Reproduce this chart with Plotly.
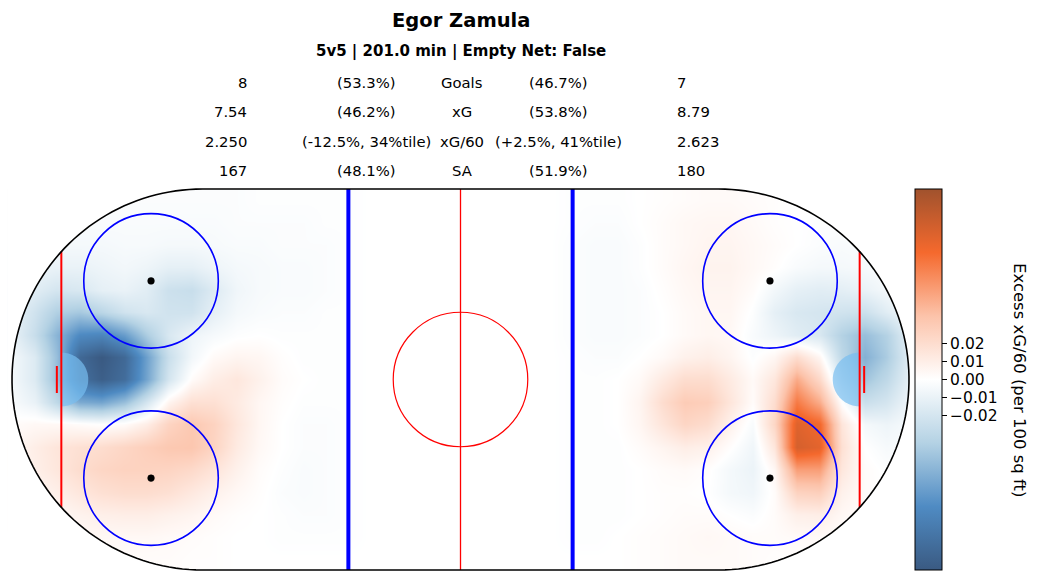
import numpy as np
import plotly.graph_objects as go

# ---------------- data ----------------
player = "Egor Zamula"
subtitle = "5v5 | 201.0 min | Empty Net: False"
stat_labels = ["Goals", "xG", "xG/60", "SA"]
left_values = ["8", "7.54", "2.250", "167"]
left_pcts = ["(53.3%)", "(46.2%)", "(-12.5%, 34%tile)", "(48.1%)"]
right_pcts = ["(46.7%)", "(53.8%)", "(+2.5%, 41%tile)", "(51.9%)"]
right_values = ["7", "8.79", "2.623", "180"]

# grid (ft); rows listed from y=40 (top) to y=-40 (bottom); values in 1/1000 xG/60
grid_y = [40, 35, 30, 25, 20, 15, 10, 5, 0, -5, -10, -15, -20, -25, -30, -35, -40]
left_x = [-100, -95, -90, -85, -80, -75, -70, -65, -60, -55, -50, -45, -40, -35, -30, -25]
neutral_x = [-20, -15, -10, -5, 0, 5, 10, 15, 20]
right_x = [25, 30, 35, 40, 45, 50, 55, 60, 65, 70, 75, 80, 85, 90, 95, 100]

left_zone = [
    [-2, -2, -2, -2, -2, -2, -2, -2, -2, -2, -2, -1, -1, -1, -1, -1],
    [-3, -3, -3, -3, -3, -3, -3, -3, -3, -3, -2, -2, -2, -2, -1, -1],
    [-4, -5, -5, -5, -5, -4, -4, -5, -5, -4, -3, -3, -2, -2, -2, -1],
    [-6, -8, -10, -10, -8, -6, -8, -12, -12, -8, -5, -4, -3, -3, -2, -1],
    [-8, -14, -20, -18, -12, -10, -14, -24, -26, -16, -7, -4, -3, -3, -2, -1],
    [-10, -22, -36, -40, -32, -22, -18, -22, -22, -12, -5, -3, -2, -2, -1, -1],
    [-10, -26, -50, -72, -75, -62, -38, -18, -8, -4, -1, 0, -1, -1, -1, -1],
    [-5, -16, -45, -95, -106, -95, -60, -25, -6, 3, 6, 5, 1, -1, -1, -1],
    [-5, -16, -45, -90, -102, -92, -58, -20, 2, 10, 14, 8, 2, 0, -1, -1],
    [-3, -10, -30, -55, -58, -45, -20, 6, 18, 18, 12, 5, 1, -1, -1, -1],
    [2, 4, 4, 2, 0, 2, 10, 25, 32, 26, 14, 5, 0, -2, -2, -1],
    [4, 10, 15, 18, 20, 24, 28, 32, 33, 25, 12, 4, 0, -2, -2, -1],
    [4, 9, 14, 20, 24, 26, 26, 25, 22, 16, 8, 2, -1, -3, -2, -1],
    [2, 5, 9, 14, 18, 20, 20, 18, 13, 8, 4, 1, -2, -3, -2, -1],
    [1, 2, 4, 7, 9, 10, 10, 8, 6, 3, 1, 0, -1, -2, -2, -1],
    [0, 1, 2, 3, 4, 4, 4, 3, 2, 1, 0, 0, -1, -1, -1, -1],
    [0, 0, 1, 1, 2, 2, 2, 2, 1, 1, 0, 0, 0, 0, 0, 0],
]

neutral_zone = [[0] * 9 for _ in range(17)]

right_zone = [
    [-1, -1, -1, 0, 1, 2, 3, 3, 2, 1, 0, 0, 0, 0, 0, 0],
    [-1, -2, -2, 0, 2, 4, 5, 5, 3, 1, 0, -1, -1, -1, 0, 0],
    [-2, -3, -3, -1, 2, 4, 6, 6, 4, 2, 0, -2, -3, -2, -1, 0],
    [-2, -3, -3, -1, 2, 5, 7, 7, 4, 1, -3, -5, -5, -4, -2, -1],
    [-2, -3, -3, -2, 1, 4, 6, 6, 2, -6, -12, -14, -13, -10, -5, -2],
    [-2, -3, -3, -2, 0, 3, 5, 5, -1, -12, -18, -20, -22, -24, -14, -6],
    [-2, -3, -3, -2, 0, 3, 5, 4, -3, -8, -14, -18, -35, -45, -35, -12],
    [-1, -2, -2, 0, 3, 8, 10, 6, -1, 5, 20, 5, -30, -52, -38, -14],
    [-1, -1, 0, 3, 12, 20, 20, 12, 3, 14, 45, 22, -18, -42, -30, -12],
    [-1, -1, 0, 6, 20, 30, 28, 15, 2, 20, 64, 44, 0, -25, -20, -8],
    [-1, -1, 0, 5, 15, 24, 20, 8, -3, 24, 80, 72, 15, -5, -8, -4],
    [-1, -1, -1, 2, 6, 10, 8, 1, -7, 15, 84, 78, 18, 0, -4, -2],
    [-1, -1, -1, 0, 2, 3, 1, -5, -9, 5, 50, 50, 14, 2, -1, -1],
    [-1, -1, -1, 0, 1, 1, 0, -5, -7, 2, 26, 28, 8, 2, 0, 0],
    [-1, -1, -1, 0, 1, 2, 2, 0, -2, 2, 9, 10, 4, 1, 0, 0],
    [-1, -1, 0, 1, 2, 3, 4, 3, 2, 2, 3, 3, 1, 0, 0, 0],
    [0, 0, 0, 1, 2, 3, 3, 3, 2, 1, 1, 1, 0, 0, 0, 0],
]

cbar_ticks = [-0.02, -0.01, 0.0, 0.01, 0.02]
cbar_ticktext = ["\u22120.02", "\u22120.01", "0.00", "0.01", "0.02"]
z_limit = 0.106

# ---------------- build z ----------------
x_all = left_x + neutral_x + right_x
rows = [l + n + r for l, n, r in zip(left_zone, neutral_zone, right_zone)]
z = (np.array(rows[::-1], dtype=float) / 1000.0)
y_all = grid_y[::-1]

colorscale = [
    [0.0, "#3a5a82"],
    [1 / 6, "#4f8bc3"],
    [2 / 6, "#b4d2e4"],
    [0.5, "#ffffff"],
    [4 / 6, "#fcc3aa"],
    [5 / 6, "#f5692d"],
    [1.0, "#a0522d"],
]

W, H = 1041, 582
FONT = "DejaVu Sans"

# rink placement (pixels)
cx_px, cy_px = 460.5, 379.5
sx, sy = 4.485, 4.482
xr = [-101, 101]
yr = [-43.5, 43.5]
x0p = cx_px + xr[0] * sx
x1p = cx_px + xr[1] * sx
y0p = cy_px - yr[1] * sy
y1p = cy_px - yr[0] * sy

fig = go.Figure()
fig.add_trace(go.Heatmap(
    x=x_all, y=y_all, z=z,
    colorscale=colorscale, zmin=-z_limit, zmax=z_limit,
    zsmooth="best", hoverinfo="skip",
    colorbar=dict(
        x=915 / W, xanchor="left", xpad=0,
        y=(H - cy_px) / H, yanchor="middle", ypad=0,
        len=381 / H, lenmode="fraction",
        thickness=27, thicknessmode="pixels",
        outlinewidth=1, outlinecolor="black",
        tickvals=cbar_ticks, ticktext=cbar_ticktext,
        ticks="outside", ticklen=5, tickwidth=1, tickcolor="black",
        tickfont=dict(family=FONT, size=15.5, color="black"),
    ),
))

R = 42.5
XC = 57.5


def arc(cx, cy, r, a0, a1, n=90):
    t = np.radians(np.linspace(a0, a1, n))
    return list(zip(cx + r * np.cos(t), cy + r * np.sin(t)))


def path(pts, close=True):
    s = "M " + " L ".join(f"{px:.3f},{py:.3f}" for px, py in pts)
    return s + (" Z" if close else "")


shapes = []
# white masks outside the rounded ends
left_mask = [(-XC, R), (-XC, 60), (-120, 60), (-120, -60), (-XC, -60), (-XC, -R)] + arc(-XC, 0, R, 270, 90)
right_mask = [(XC, R), (XC, 60), (120, 60), (120, -60), (XC, -60), (XC, -R)] + arc(XC, 0, R, -90, 90)
for m in (left_mask, right_mask):
    shapes.append(dict(type="path", path=path(m), fillcolor="white", line=dict(width=0), layer="above"))

# creases
lc = [(-89, -6)] + arc(-89, 0, 6, -90, 90, 60)
rc = [(89, 6)] + arc(89, 0, 6, 90, 270, 60)
for c in (lc, rc):
    shapes.append(dict(type="path", path=path(c), fillcolor="rgba(120,190,240,0.7)", line=dict(width=0), layer="above"))

# center red line
shapes.append(dict(type="line", x0=0, x1=0, y0=-R, y1=R, line=dict(color="red", width=1.3), layer="above"))
# blue lines
for bx in (-25, 25):
    shapes.append(dict(type="line", x0=bx, x1=bx, y0=-R, y1=R, line=dict(color="blue", width=4), layer="above"))
# goal lines
gh = float(np.sqrt(R ** 2 - (89 - XC) ** 2))
for gx in (-89, 89):
    shapes.append(dict(type="line", x0=gx, x1=gx, y0=-gh, y1=gh, line=dict(color="red", width=2), layer="above"))
# goals
for gx in (-90, 90):
    shapes.append(dict(type="line", x0=gx, x1=gx, y0=-3, y1=3, line=dict(color="red", width=2), layer="above"))
# center circle
shapes.append(dict(type="circle", x0=-15, x1=15, y0=-15, y1=15, line=dict(color="red", width=1.2), layer="above"))
# faceoff circles and dots
for fx in (-69, 69):
    for fy in (-22, 22):
        shapes.append(dict(type="circle", x0=fx - 15, x1=fx + 15, y0=fy - 15, y1=fy + 15,
                           line=dict(color="blue", width=1.6), layer="above"))
        shapes.append(dict(type="circle", x0=fx - 0.75, x1=fx + 0.75, y0=fy - 0.75, y1=fy + 0.75,
                           fillcolor="black", line=dict(color="black", width=0.5), layer="above"))
# boards
board = [(-XC, R), (XC, R)] + arc(XC, 0, R, 90, -90) + [(-XC, -R)] + arc(-XC, 0, R, 270, 90)
shapes.append(dict(type="path", path=path(board), line=dict(color="black", width=1.6), layer="above"))

annotations = []


def px_ann(text, xpx, ypx, size, anchor="center", bold=False, angle=0):
    annotations.append(dict(
        text=f"<b>{text}</b>" if bold else text,
        x=xpx / W, y=1 - ypx / H, xref="paper", yref="paper",
        xanchor=anchor, yanchor="middle", showarrow=False, textangle=angle,
        font=dict(family=FONT, size=size, color="black"),
    ))


px_ann(player, 461, 21, 19.5, bold=True)
px_ann(subtitle, 461, 51, 15, bold=True)
row_y = [83, 112, 141, 170]
for i, ry in enumerate(row_y):
    px_ann(left_values[i], 249, ry, 14.8, anchor="right")
    px_ann(left_pcts[i], 366, ry, 14.8)
    px_ann(stat_labels[i], 461.5, ry, 14.8)
    px_ann(right_pcts[i], 558, ry, 14.8)
    px_ann(right_values[i], 675, ry, 14.8, anchor="left")

px_ann("Excess xG/60 (per 100 sq ft)", 1020, 380, 16.5, angle=90)

fig.update_layout(
    width=W, height=H, autosize=False,
    margin=dict(l=0, r=0, t=0, b=0),
    paper_bgcolor="white", plot_bgcolor="white",
    xaxis=dict(range=xr, domain=[x0p / W, x1p / W], visible=False, fixedrange=True),
    yaxis=dict(range=yr, domain=[(H - y1p) / H, (H - y0p) / H], visible=False, fixedrange=True),
    shapes=shapes, annotations=annotations, showlegend=False,
)

fig.write_html("out.html")
